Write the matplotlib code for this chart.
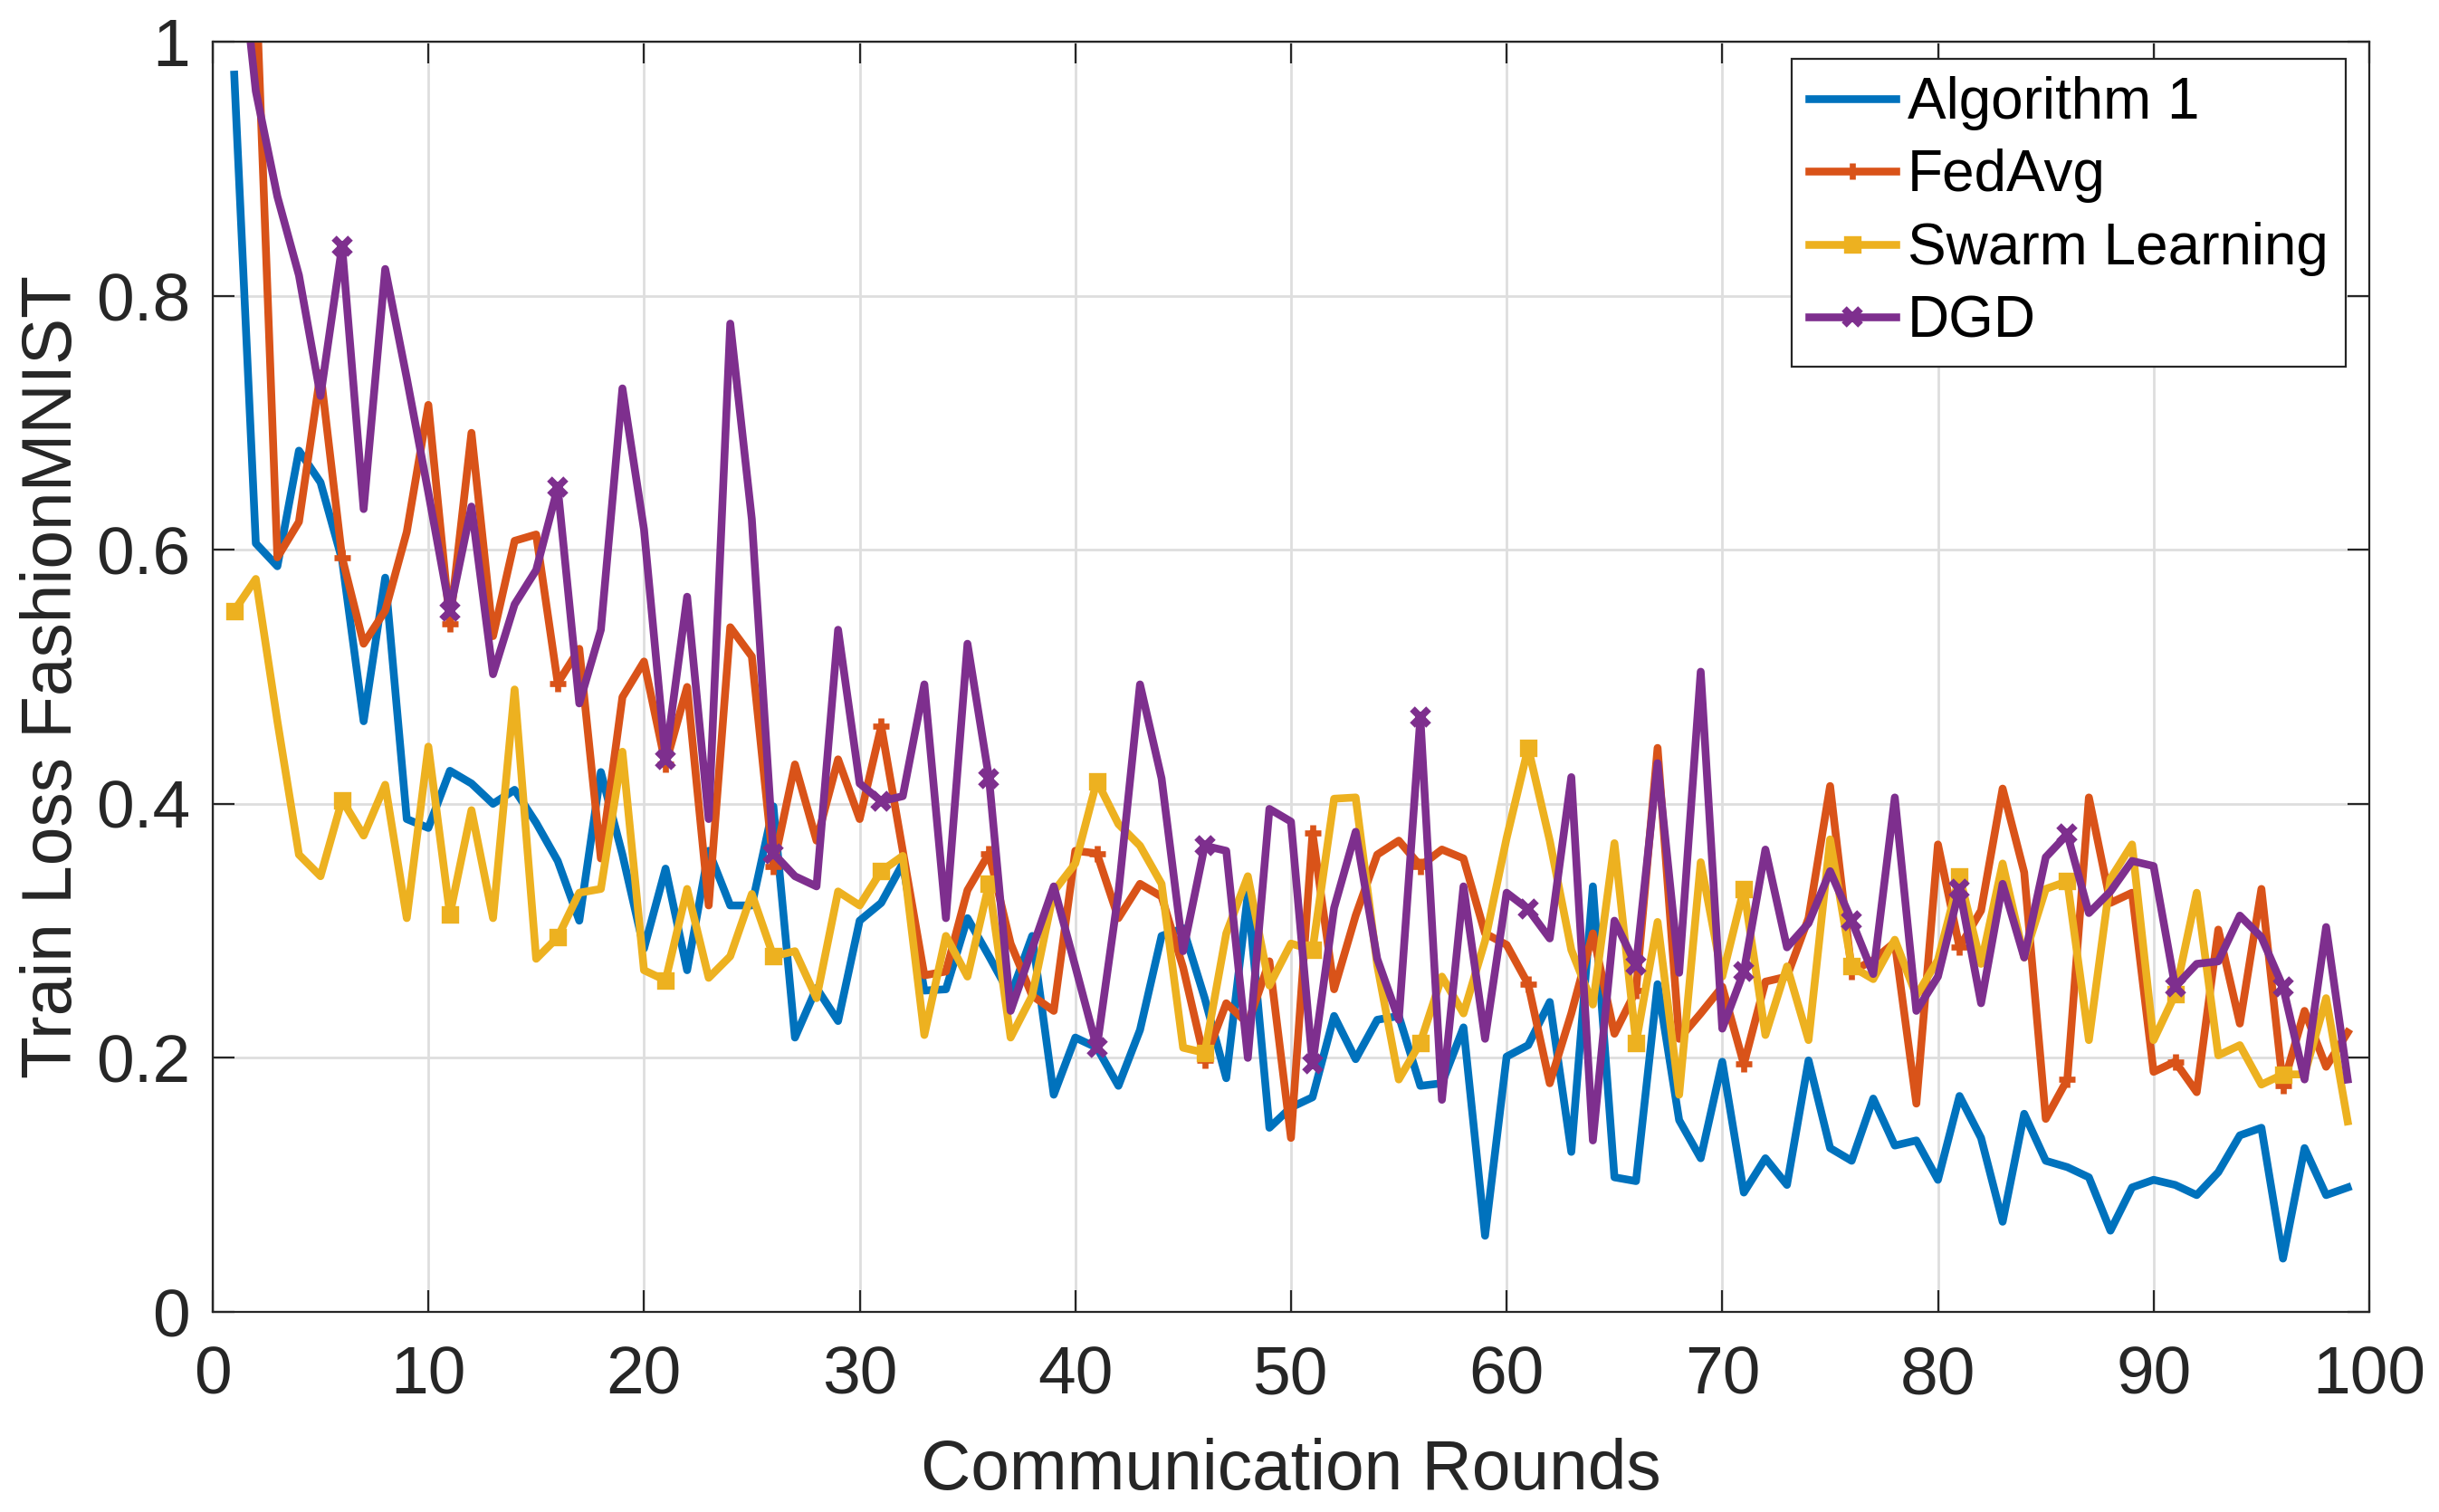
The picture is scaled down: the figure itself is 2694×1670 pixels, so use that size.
import numpy as np
import matplotlib
matplotlib.use('Agg')
from matplotlib import pyplot as plt

plt.rcParams['font.family'] = ['Liberation Sans', 'DejaVu Sans']

rounds = np.arange(1, 100)

algorithm1 = [0.974, 0.605, 0.587, 0.678, 0.653, 0.592, 0.465, 0.578, 0.388, 0.381,
              0.426, 0.416, 0.400, 0.411, 0.385, 0.355, 0.308, 0.425, 0.360, 0.286,
              0.349, 0.269, 0.363, 0.320, 0.320, 0.398, 0.216, 0.255, 0.229, 0.308,
              0.322, 0.353, 0.253, 0.254, 0.310, 0.280, 0.249, 0.296, 0.171, 0.216,
              0.208, 0.178, 0.222, 0.296, 0.302, 0.247, 0.184, 0.329, 0.145, 0.161,
              0.169, 0.233, 0.199, 0.230, 0.233, 0.178, 0.180, 0.224, 0.060, 0.201,
              0.210, 0.244, 0.126, 0.335, 0.106, 0.103, 0.258, 0.151, 0.121, 0.197,
              0.094, 0.121, 0.100, 0.198, 0.129, 0.119, 0.168, 0.131, 0.135, 0.104,
              0.170, 0.137, 0.071, 0.156, 0.119, 0.114, 0.106, 0.064, 0.098, 0.104,
              0.100, 0.092, 0.110, 0.139, 0.145, 0.042, 0.129, 0.092, 0.098]

fedavg = [1.35, 1.05, 0.594, 0.622, 0.739, 0.594, 0.526, 0.552, 0.614, 0.714,
          0.542, 0.692, 0.532, 0.607, 0.612, 0.495, 0.522, 0.357, 0.484, 0.512,
          0.431, 0.492, 0.320, 0.539, 0.516, 0.351, 0.431, 0.371, 0.435, 0.388,
          0.461, 0.363, 0.265, 0.268, 0.332, 0.361, 0.290, 0.249, 0.237, 0.363,
          0.361, 0.310, 0.337, 0.327, 0.271, 0.198, 0.243, 0.227, 0.276, 0.137,
          0.377, 0.254, 0.312, 0.360, 0.371, 0.351, 0.364, 0.357, 0.298, 0.289,
          0.258, 0.180, 0.235, 0.298, 0.219, 0.253, 0.444, 0.215, 0.235, 0.256,
          0.195, 0.260, 0.264, 0.310, 0.414, 0.268, 0.277, 0.291, 0.164, 0.368,
          0.287, 0.316, 0.412, 0.346, 0.152, 0.183, 0.405, 0.322, 0.330, 0.189,
          0.197, 0.173, 0.301, 0.227, 0.333, 0.178, 0.237, 0.193, 0.220]

swarm = [0.552, 0.577, 0.465, 0.360, 0.343, 0.403, 0.375, 0.415, 0.310, 0.445,
         0.313, 0.395, 0.310, 0.490, 0.278, 0.295, 0.330, 0.333, 0.441, 0.269,
         0.261, 0.333, 0.263, 0.280, 0.329, 0.280, 0.284, 0.247, 0.331, 0.320,
         0.347, 0.359, 0.218, 0.296, 0.264, 0.337, 0.216, 0.249, 0.331, 0.353,
         0.418, 0.384, 0.367, 0.337, 0.208, 0.204, 0.298, 0.343, 0.257, 0.290,
         0.285, 0.404, 0.405, 0.273, 0.183, 0.212, 0.264, 0.235, 0.292, 0.373,
         0.444, 0.371, 0.285, 0.242, 0.369, 0.212, 0.307, 0.171, 0.354, 0.264,
         0.333, 0.218, 0.272, 0.214, 0.372, 0.272, 0.262, 0.293, 0.249, 0.277,
         0.343, 0.274, 0.353, 0.279, 0.333, 0.339, 0.214, 0.341, 0.368, 0.214,
         0.250, 0.330, 0.202, 0.210, 0.179, 0.187, 0.187, 0.247, 0.150]

dgd = [1.12, 0.961, 0.878, 0.816, 0.721, 0.839, 0.632, 0.821, 0.735, 0.645,
       0.552, 0.634, 0.502, 0.557, 0.584, 0.649, 0.479, 0.537, 0.727, 0.616,
       0.435, 0.563, 0.388, 0.778, 0.624, 0.361, 0.343, 0.335, 0.537, 0.416,
       0.402, 0.406, 0.494, 0.310, 0.526, 0.420, 0.237, 0.286, 0.335, 0.272,
       0.208, 0.330, 0.494, 0.420, 0.284, 0.367, 0.363, 0.200, 0.396, 0.386,
       0.195, 0.318, 0.378, 0.278, 0.230, 0.468, 0.167, 0.335, 0.215, 0.330,
       0.317, 0.294, 0.421, 0.135, 0.308, 0.273, 0.432, 0.267, 0.504, 0.223,
       0.268, 0.364, 0.287, 0.306, 0.347, 0.308, 0.266, 0.405, 0.237, 0.264,
       0.333, 0.243, 0.337, 0.279, 0.358, 0.376, 0.314, 0.331, 0.355, 0.351,
       0.256, 0.274, 0.276, 0.312, 0.295, 0.256, 0.183, 0.303, 0.183]

x_ticks = np.arange(0, 101, 10)
y_ticks = [0, 0.2, 0.4, 0.6, 0.8, 1]
y_tick_labels = ['0', '0.2', '0.4', '0.6', '0.8', '1']

fig = plt.figure(figsize=(13.47, 8.35), dpi=200)
ax = fig.add_axes([0.0872, 0.1323, 0.8842, 0.8402])

lw = 3.1
ax.plot(rounds, algorithm1, color='#0072BD', lw=lw, label='Algorithm 1')
ax.plot(rounds, fedavg, color='#D95319', lw=lw, marker='+', markevery=5,
        ms=6.5, mew=2.4, label='FedAvg')
ax.plot(rounds, swarm, color='#EDB120', lw=lw, marker='s', markevery=5,
        ms=5.5, mew=1.2, label='Swarm Learning')
ax.plot(rounds, dgd, color='#7E2F8E', lw=lw, marker='x', markevery=5,
        ms=6.5, mew=2.8, label='DGD')

ax.set_xlim(0, 100)
ax.set_ylim(0, 1)
ax.set_xticks(x_ticks)
ax.set_yticks(y_ticks)
ax.set_yticklabels(y_tick_labels)

ax.grid(True, color='#dedede', linewidth=1.0)
ax.set_axisbelow(True)
for s in ax.spines.values():
    s.set_color('#262626')
    s.set_linewidth(0.8)

ax.tick_params(direction='in', length=8.6, width=0.8, colors='#262626',
               labelsize=27, top=True, right=True)
ax.tick_params(axis='x', pad=13)
ax.tick_params(axis='y', pad=9)

ax.set_xlabel('Communication Rounds', fontsize=27.6, color='#262626', labelpad=12)
ax.set_ylabel('Train Loss FashionMNIST', fontsize=27.6, color='#262626', labelpad=4)

leg = ax.legend(loc='upper right', bbox_to_anchor=(0.989, 0.9865), borderaxespad=0,
                fontsize=23, fancybox=False, framealpha=1, edgecolor='#262626',
                handlelength=1.5, handletextpad=0.2, borderpad=0.3,
                labelspacing=0.32)
leg.get_frame().set_linewidth(0.8)

fig.savefig('out.png', dpi=200)
